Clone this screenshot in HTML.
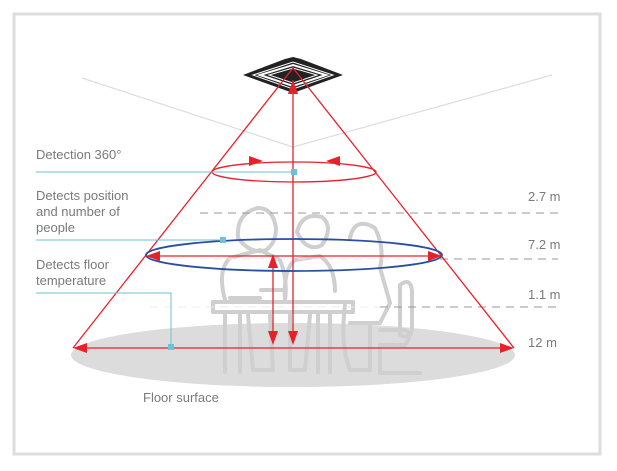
<!DOCTYPE html><html><head><style>body{margin:0;background:#fff}svg{display:block}text{font-family:"Liberation Sans",sans-serif;font-size:13px;fill:#7a7a7a}</style></head><body>
<svg width="617" height="471" viewBox="0 0 617 471">
<rect x="14" y="14" width="586" height="440" fill="#fff" stroke="#ddd" stroke-width="3"/>
<ellipse cx="293" cy="355" rx="222" ry="32" fill="#dcdcdd"/>
<polyline points="82,78 293,147 552,75" fill="none" stroke="#ddd" stroke-width="1.2"/>
<g fill="none" stroke="#cfcfcf" stroke-width="4" stroke-linejoin="round" stroke-linecap="round">
<path d="M238,238 q-2,-25 20,-30 q15,0 18,20 q0,15 -10,22 q-15,5 -28,-12z"/>
<path d="M225,300 q-8,-30 5,-42 l30,-8 l20,10 q8,20 5,40"/>
<path d="M297,232 q5,-20 25,-15 q12,10 0,28 q-15,8 -25,-13z"/>
<path d="M285,300 q-2,-30 10,-40 l25,-4 q15,10 15,35"/>
<path d="M350,238 q5,-22 25,-10 q10,20 5,40 l10,35 l-10,20 l-30,0"/>
<path d="M345,305 q-5,40 5,65 l20,0 M370,325 l0,45"/>
<path d="M400,285 q10,-8 12,5 l0,40 q-2,10 -12,5z M380,330 l25,0 q8,5 0,15 l-25,0 M380,345 l0,28 l40,0"/>
<path d="M213,302 l140,0 l0,10 l-140,0z"/>
<path d="M225,312 l0,60 M240,312 l0,60 M318,312 l0,60 M330,312 l0,60"/>
<path d="M248,315 l5,55 l20,0 l-3,-55 M290,315 l0,55 l15,0 l5,-55"/>
<path d="M261,290 l24,0 l0,12 M230,298 l30,0"/>
</g>
<g stroke="#999" stroke-dasharray="8,6" stroke-width="1">
<line x1="200" y1="213" x2="558" y2="213"/><line x1="440" y1="259" x2="558" y2="259"/><line x1="380" y1="307" x2="558" y2="307"/>
</g>
<g stroke="#eee" stroke-dasharray="8,6"><line x1="200" y1="259" x2="440" y2="259"/><line x1="150" y1="307" x2="380" y2="307"/></g>
<g transform="translate(293,75)">
<polygon points="-50,0 -8,-16 0,-18 8,-16 50,0 0,18" fill="#222"/>
<polygon points="-40,0 0,-13 40,0 0,14" fill="none" stroke="#fff" stroke-width="1"/>
<polygon points="-33,0 0,-10 33,0 0,11" fill="none" stroke="#fff" stroke-width="2"/>
<polygon points="-24,0 0,-7 24,0 0,8" fill="none" stroke="#fff" stroke-width="1"/>
</g>
<g stroke="#e8202a" stroke-width="1.3" fill="none">
<line x1="293" y1="68" x2="73" y2="348"/><line x1="293" y1="68" x2="514" y2="348"/>
<line x1="293" y1="80" x2="293" y2="340"/>
<line x1="273" y1="262" x2="273" y2="340"/>
<line x1="85" y1="348" x2="502" y2="348"/>
<line x1="160" y1="256" x2="428" y2="256"/>
<ellipse cx="294" cy="172" rx="82" ry="10"/>
</g>
<ellipse cx="294" cy="255" rx="148" ry="16" fill="none" stroke="#2a4fa0" stroke-width="1.8"/>
<g fill="#e8202a">
<polygon points="293,80 288,94 298,94"/><polygon points="293,345 288,331 298,331"/>
<polygon points="273,254 268,268 278,268"/><polygon points="273,345 268,331 278,331"/>
<polygon points="73,348 87,343 87,353"/><polygon points="514,348 500,343 500,353"/>
<polygon points="146,256 160,251 160,261"/><polygon points="442,256 428,251 428,261"/>
<polygon points="263,161 249,156 249,166"/><polygon points="326,161 340,156 340,166"/>
</g>
<g fill="none" stroke-width="1" stroke="#6ec0cf">
<line x1="36" y1="172" x2="294" y2="172"/>
<line x1="36" y1="240" x2="223" y2="240"/>
<polyline points="36,293 171,293 171,347"/>
</g>
<g fill="#6cc3d5"><rect x="291" y="169" width="6" height="6"/><rect x="220" y="237" width="6" height="6"/><rect x="168" y="344" width="6" height="6"/></g>
<text x="36" y="159">Detection 360°</text>
<text x="36" y="200">Detects position</text><text x="36" y="216">and number of</text><text x="36" y="232">people</text>
<text x="36" y="269">Detects floor</text><text x="36" y="285">temperature</text>
<text x="143" y="402">Floor surface</text>
<text x="528" y="201">2.7 m</text><text x="528" y="249">7.2 m</text><text x="528" y="299">1.1 m</text><text x="528" y="347">12 m</text>
</svg></body></html>
